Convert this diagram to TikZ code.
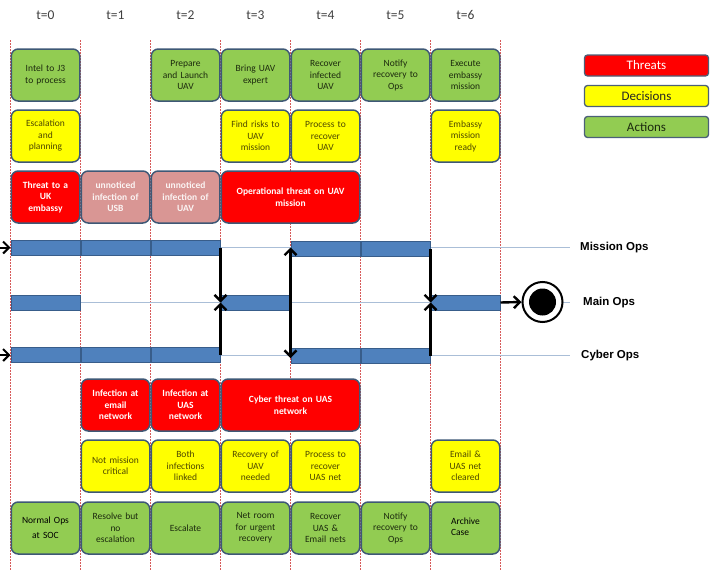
\documentclass[tikz,border=0pt]{standalone}
\usepackage{fontspec}
\setmainfont{Carlito}
\newfontfamily\labelfont{Liberation Sans}
\usetikzlibrary{arrows.meta}

\definecolor{actgreen}{RGB}{146,204,82}
\definecolor{decyellow}{RGB}{255,255,0}
\definecolor{thrred}{RGB}{255,0,0}
\definecolor{thrpink}{RGB}{217,150,148}
\definecolor{boxedge}{RGB}{62,88,118}
\definecolor{barblue}{RGB}{79,129,189}
\definecolor{baredge}{RGB}{56,93,138}
\definecolor{trackline}{RGB}{170,190,215}
\definecolor{divline}{RGB}{215,90,90}
\definecolor{acttext}{RGB}{28,42,14}
\definecolor{dectext}{RGB}{78,72,0}
\definecolor{headtext}{RGB}{64,64,64}

\begin{document}
\begin{tikzpicture}[x=1pt,y=-1pt,
  boxfont/.style={font=\fontsize{9.5}{11.5}\selectfont},
  card/.style={draw=boxedge, line width=1.5pt, rounded corners=7pt,
    minimum height=52pt, minimum width=68.5pt, inner sep=1pt,
    align=center, text width=64pt, boxfont},
  action/.style={card, fill=actgreen, text=acttext},
  decision/.style={card, fill=decyellow, text=dectext},
  threat/.style={card, fill=thrred, text=white,
    font=\bfseries\fontsize{9.5}{11.5}\selectfont},
  latent/.style={card, fill=thrpink, text=white!90!thrpink,
    font=\bfseries\fontsize{9.5}{11.5}\selectfont},
  wide/.style={minimum width=138.5pt, text width=130pt},
  bar/.style={draw=baredge, line width=1pt, fill=barblue,
    minimum width=69pt, minimum height=15pt, inner sep=0pt},
  track/.style={draw=trackline, line width=0.9pt},
  divider/.style={draw=divline, line width=0.8pt, dash pattern=on 1.5pt off 1.5pt},
  barb/.tip={Straight Barb[length=6pt,width=12pt]},
  flow/.style={-barb, line width=2.4pt},
  twoway/.style={barb-barb, line width=2.4pt},
  head/.style={font=\fontsize{13.5}{15}\selectfont, text=headtext},
  lane/.style={font=\labelfont\bfseries\fontsize{11.5}{13}\selectfont, anchor=west, inner sep=0pt},
  legend/.style={draw=boxedge!80!gray, line width=1.3pt, rounded corners=3pt,
    minimum width=124pt, minimum height=21pt, inner sep=0pt,
    font=\fontsize{13}{15}\selectfont}
]
\useasboundingbox (0,0) rectangle (713,570);

% time columns: dividers and headers
\foreach \k in {0,...,7}
  \draw[divider] (10.5+70*\k,40) -- (10.5+70*\k,570);
\foreach \k in {0,...,6}
  \node[head] (h\k) at (45.5+70*\k,15) {t=\k};

% upper block: actions, decisions, threats
\node[action]   (a0) at (45.5,75)  {Intel to J3\\to process};
\node[action]   (a2) at (185.5,75) {Prepare\\and Launch\\UAV};
\node[action]   (a3) at (255.5,75) {Bring UAV\\expert};
\node[action]   (a4) at (325.5,75) {Recover\\infected\\UAV};
\node[action]   (a5) at (395.5,75) {Notify\\recovery to\\Ops};
\node[action]   (a6) at (465.5,75) {Execute\\embassy\\mission};

\node[decision] (d0) at (45.5,136)  {Escalation\\and\\planning};
\node[decision] (d3) at (255.5,136) {Find risks to\\UAV\\mission};
\node[decision] (d4) at (325.5,136) {Process to\\recover\\UAV};
\node[decision] (d6) at (465.5,136) {Embassy\\mission\\ready};

\node[threat]   (t0) at (45.5,197)  {Threat to a\\UK\\embassy};
\node[latent]   (t1) at (115.5,197) {unnoticed\\infection of\\USB};
\node[latent]   (t2) at (185.5,197) {unnoticed\\infection of\\UAV};
\node[threat,wide] (t3) at (290.5,197) {Operational threat on UAV\\mission};

% lower block: threats, decisions, actions
\node[threat]   (u1) at (115.5,405) {Infection at\\email\\network};
\node[threat]   (u2) at (185.5,405) {Infection at\\UAS\\network};
\node[threat,wide] (u3) at (290.5,405) {Cyber threat on UAS\\network};

\node[decision] (e1) at (115.5,466) {Not mission\\critical};
\node[decision] (e2) at (185.5,466) {Both\\infections\\linked};
\node[decision] (e3) at (255.5,466) {Recovery of\\UAV\\needed};
\node[decision] (e4) at (325.5,466) {Process to\\recover\\UAS net};
\node[decision] (e6) at (465.5,466) {Email \&\\UAS net\\cleared};

\node[action,text=black,font=\fontsize{9.5}{15}\selectfont] (b0) at (45.5,528) {Normal Ops\\at SOC};
\node[action]   (b1) at (115.5,528) {Resolve but\\no\\escalation};
\node[action]   (b2) at (185.5,528) {Escalate};
\node[action]   (b3) at (255.5,528) {Net room\\for urgent\\recovery};
\node[action]   (b4) at (325.5,528) {Recover\\UAS \&\\Email nets};
\node[action]   (b5) at (395.5,528) {Notify\\recovery to\\Ops};
\node[action,text=black,font=\fontsize{9.5}{10.5}\selectfont] (b6) at (465.5,528)
  {\begin{tabular}{@{}l@{}}Archive\\Case\end{tabular}};

% lane labels and end state
\node[lane] (mlab) at (580,247.5) {Mission Ops};
\node[lane] (olab) at (583,302.5) {Main Ops};
\node[lane] (clab) at (581,355.5) {Cyber Ops};

% lane tracks
\draw[track] (10.5,247.5) -- ([xshift=-10pt]mlab.west);
\draw[track] (10.5,302.5) -- ([xshift=-13pt]olab.west);
\draw[track] (10.5,355.5) -- ([xshift=-11pt]clab.west);

\node[circle, draw=black, fill=white, line width=2pt, minimum size=40pt, inner sep=0pt] (ring) at (542.5,302) {};
\node[circle, fill=black, minimum size=27pt, inner sep=0pt] (dot) at (ring.center) {};

% lane bars
\node[bar] (m0) at (45.5,247.5)  {};
\node[bar] (m1) at (115.5,247.5) {};
\node[bar] (m2) at (185.5,247.5) {};
\node[bar] (m4) at (325.5,248.5) {};
\node[bar] (m5) at (395.5,248.5) {};

\node[bar] (o0) at (45.5,302.5)  {};
\node[bar] (o3) at (255.5,302.5) {};
\node[bar] (o6) at (465.5,302.5) {};

\node[bar] (c0) at (45.5,355)   {};
\node[bar] (c1) at (115.5,355)  {};
\node[bar] (c2) at (185.5,355)  {};
\node[bar] (c4) at (325.5,356)  {};
\node[bar] (c5) at (395.5,356)  {};

% entry arrows
\coordinate (inm) at (0,247.5);
\coordinate (inc) at (0,355);
\draw[flow,line width=2pt] (inm) -- (m0.west);
\draw[flow,line width=2pt] (inc) -- (c0.west);

% joins and forks between lanes
\draw[flow] (m2.east) -- (o3.west);
\draw[flow] (c2.east) -- (o3.west);
\draw[twoway] ([yshift=1pt]m4.west) -- ([yshift=-2pt]c4.west);
\draw[flow] (m5.east) -- (o6.west);
\draw[flow] (c5.east) -- (o6.west);
\draw[flow] (o6.east) -- (ring.west);

% legend
\node[legend, fill=thrred, text=white]      (lt) at (646.5,65.5) {Threats};
\node[legend, fill=decyellow, text=black!85] (ld) at (646.5,96)   {Decisions};
\node[legend, fill=actgreen, text=acttext]  (la) at (646.5,127)  {Actions};
\end{tikzpicture}
\end{document}
